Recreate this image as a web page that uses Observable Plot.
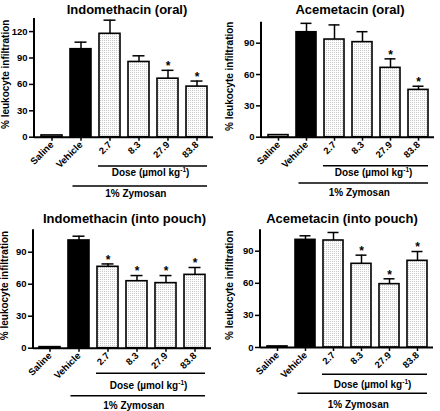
<!DOCTYPE html>
<html><head><meta charset="utf-8">
<script src="https://cdn.jsdelivr.net/npm/d3@7"></script>
<script src="https://cdn.jsdelivr.net/npm/@observablehq/plot@0.6"></script>
<style>
body{margin:0;background:#fff;}
#wrap{position:relative;width:440px;height:411px;font-family:"Liberation Sans",Arial,sans-serif;overflow:hidden;}
.panel{position:absolute;}
</style></head><body>
<svg width="0" height="0" style="position:absolute"><defs>
<pattern id="dots" width="2" height="2" patternUnits="userSpaceOnUse"><rect width="2" height="2" fill="#fdfdfd"/><rect width="1" height="1" fill="#cacaca"/></pattern>
</defs></svg>
<div id="wrap"></div>
<script>
// ---- data ----
const categories = ["Saline", "Vehicle", "2.7", "8.3", "27.9", "83.8"];
const kinds = ["saline", "vehicle", "dose", "dose", "dose", "dose"];

const indoOralMean = [2, 100, 117.5, 85.5, 66.5, 57.5];
const indoOralErr  = [0, 8, 15.5, 7, 9.5, 6.3];
const indoOralSig  = [false, false, false, false, true, true];

const aceOralMean = [2, 100.5, 93.5, 91, 66.4, 45.3];
const aceOralErr  = [0, 8.5, 14, 10, 8.6, 3.5];
const aceOralSig  = [false, false, false, false, true, true];

const indoPouchMean = [1, 101, 76.3, 62.8, 61, 68.75];
const indoPouchErr  = [0, 4, 2.7, 5.3, 7.1, 6.9];
const indoPouchSig  = [false, false, true, true, true, true];

const acePouchMean = [1, 100.6, 100, 78.2, 59.2, 81];
const acePouchErr  = [0, 3.8, 7.5, 8.1, 5, 8.7];
const acePouchSig  = [false, false, false, true, true, true];

const yTicksIndoOral = [0, 30, 60, 90, 120];
const yTicksOther = [0, 30, 60, 90];

const titles = ["Indomethacin (oral)", "Acemetacin (oral)", "Indomethacin (into pouch)", "Acemetacin (into pouch)"];
const yLabel = "% leukocyte infiltration";
const doseLabel = "Dose (\u00b5mol kg";
const zymosanLabel = "1% Zymosan";

// ---- layout ----
const panels = [
  {title: titles[0], mean: indoOralMean, err: indoOralErr, sig: indoOralSig, ticks: yTicksIndoOral, yMax: 135,
   left: 0, top: 0, h: 205, ml: 34, mr: 7, mt: 17.9, mb: 68.3, titleX: 127, titleY: 13.5, ylabX: 8.5,
   doseY: 166, doseTextY: 175.7, zymY: 186, zymTextY: 197.3},
  {title: titles[1], mean: aceOralMean, err: aceOralErr, sig: aceOralSig, ticks: yTicksOther, yMax: 110,
   left: 220, top: 0, h: 205, ml: 41, mr: 6, mt: 21.8, mb: 68.3, titleX: 130, titleY: 13.5, ylabX: 13,
   doseY: 165.7, doseTextY: 176, zymY: 183, zymTextY: 196},
  {title: titles[2], mean: indoPouchMean, err: indoPouchErr, sig: indoPouchSig, ticks: yTicksOther, yMax: 111,
   left: 0, top: 205, h: 206, ml: 33, mr: 9, mt: 24.3, mb: 63.3, titleX: 124.5, titleY: 18.3, ylabX: 8,
   doseY: 168.3, doseTextY: 184, zymY: 190.7, zymTextY: 203.5},
  {title: titles[3], mean: acePouchMean, err: acePouchErr, sig: acePouchSig, ticks: yTicksOther, yMax: 110,
   left: 220, top: 205, h: 206, ml: 40, mr: 7, mt: 24.3, mb: 64, titleX: 122, titleY: 18.3, ylabX: 13,
   doseY: 169.3, doseTextY: 183.3, zymY: 188.3, zymTextY: 203.3}
];

const wrap = document.getElementById("wrap");

for (const p of panels) {
  const data = categories.map((c, i) => ({cat: c, kind: kinds[i], mean: p.mean[i], err: p.err[i], sig: p.sig[i]}));
  const withErr = data.filter(d => d.err > 0);
  const chart = Plot.plot({
    width: 220, height: p.h,
    marginLeft: p.ml, marginRight: p.mr, marginTop: p.mt, marginBottom: p.mb,
    style: {fontFamily: "Liberation Sans, Arial, sans-serif", fontSize: "9.5px", fontWeight: "bold", color: "black", background: "transparent", overflow: "visible"},
    x: {domain: categories, paddingInner: 0.29, paddingOuter: 0.17, tickRotate: -45, tickSize: 4, tickPadding: 2, label: null},
    y: {domain: [0, p.yMax], ticks: p.ticks, tickSize: 5, tickPadding: 2, label: null, tickFormat: d => String(d)},
    marks: [
      Plot.barY(data.filter(d => d.kind === "saline"), {x: "cat", y: "mean", fill: "white", stroke: "black", strokeWidth: 1.6}),
      Plot.barY(data.filter(d => d.kind === "vehicle"), {x: "cat", y: "mean", fill: "black", stroke: "black", strokeWidth: 1.6}),
      Plot.barY(data.filter(d => d.kind === "dose"), {x: "cat", y: "mean", fill: "url(#dots)", stroke: "black", strokeWidth: 1.6}),
      Plot.ruleX(withErr, {x: "cat", y1: "mean", y2: d => d.mean + d.err, strokeWidth: 1.5}),
      Plot.tickY(withErr, {x: "cat", y: d => d.mean + d.err, strokeWidth: 1.5, insetLeft: 4.5, insetRight: 4.5}),
      Plot.text(data.filter(d => d.sig), {x: "cat", y: d => d.mean + d.err, text: () => "*", dy: -4, fontSize: 12, fontWeight: "bold"}),
      Plot.ruleY([0], {strokeWidth: 2})
    ]
  });
  chart.querySelectorAll('[aria-label$="axis tick"]').forEach(g => g.setAttribute("stroke-width", "1.5"));

  const svg = d3.select(chart);
  const x = chart.scale("x");
  const bw = x.bandwidth;
  const baseY = p.h - p.mb;
  // y axis line
  svg.append("line").attr("x1", p.ml).attr("x2", p.ml).attr("y1", p.mt).attr("y2", baseY + 1)
    .attr("stroke", "black").attr("stroke-width", 2);
  // title
  svg.append("text").attr("x", p.titleX).attr("y", p.titleY).attr("text-anchor", "middle")
    .attr("font-size", 13).attr("font-weight", "bold").text(p.title);
  // y label
  svg.append("text").attr("transform", `translate(${p.ylabX},${(p.mt + baseY) / 2 - 3}) rotate(-90)`)
    .attr("text-anchor", "middle").attr("font-size", 10).attr("font-weight", "bold").text(yLabel);
  // dose line + label
  const dx1 = x.apply("2.7") - 1, dx2 = x.apply("83.8") + bw;
  svg.append("line").attr("x1", dx1).attr("x2", dx2).attr("y1", p.doseY).attr("y2", p.doseY)
    .attr("stroke", "black").attr("stroke-width", 1.6);
  const dt = svg.append("text").attr("x", (dx1 + dx2) / 2 - 2).attr("y", p.doseTextY).attr("text-anchor", "middle")
    .attr("font-size", 10).attr("font-weight", "bold");
  dt.append("tspan").text(doseLabel);
  dt.append("tspan").attr("dy", -4).attr("font-size", 6.5).text("-1");
  dt.append("tspan").attr("dy", 4).text(")");
  // zymosan line + label
  const zx1 = x.apply("Vehicle") + 2.5, zx2 = x.apply("83.8") + bw;
  svg.append("line").attr("x1", zx1).attr("x2", zx2).attr("y1", p.zymY).attr("y2", p.zymY)
    .attr("stroke", "black").attr("stroke-width", 1.6);
  svg.append("text").attr("x", (zx1 + zx2) / 2 - 4).attr("y", p.zymTextY).attr("text-anchor", "middle")
    .attr("font-size", 10).attr("font-weight", "bold").text(zymosanLabel);

  const div = document.createElement("div");
  div.className = "panel";
  div.style.left = p.left + "px";
  div.style.top = p.top + "px";
  div.appendChild(chart);
  wrap.appendChild(div);
}
</script>
</body></html>
